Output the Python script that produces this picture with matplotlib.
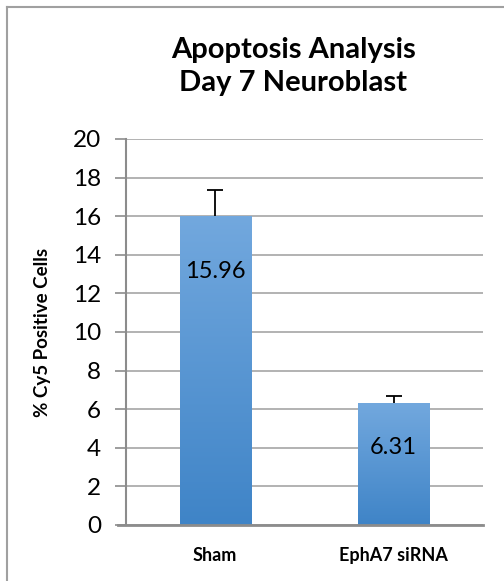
# Apoptosis analysis bar chart, Excel style
import numpy as np
import matplotlib.pyplot as plt
from matplotlib.lines import Line2D

groups = ['Sham', 'EphA7 siRNA']
values = [15.96, 6.31]
errors = [1.38, 0.37]

plt.rcParams['font.family'] = ['Lato', 'DejaVu Sans']

fig = plt.figure(figsize=(5.04, 5.81), dpi=100)
ax = fig.add_axes([0.25, 0.0964, 0.708, 0.6644])

x = np.arange(len(groups))
width = 0.4
label_drop = [2.85, 2.27]  # how far below the bar top the value label sits
grad = np.linspace(0, 1, 256).reshape(-1, 1)
cmap = plt.matplotlib.colors.LinearSegmentedColormap.from_list('b', ['#3f84c7', '#72a8de'])
for xi, v, d in zip(x, values, label_drop):
    ax.imshow(grad, extent=[xi - width / 2, xi + width / 2, 0, v], origin='lower',
              cmap=cmap, aspect='auto', zorder=2)
    ax.text(xi, v - d, f'{v:.2f}', ha='center', va='center', fontsize=17, zorder=4)

# symmetric error bars drawn behind the bars, so only the upper half shows
ax.errorbar(x, values, yerr=errors, fmt='none', ecolor='black',
            elinewidth=1.3, capsize=6, capthick=1.3, zorder=1.5)

ax.set_xlim(-0.5, 1.5)
ax.set_ylim(0, 20)
ax.set_yticks(range(0, 21, 2))
ax.tick_params(axis='y', labelsize=17.5, length=8, color='#8c8c8c', width=1.2, pad=10)
ax.set_xticks(x)
ax.set_xticklabels(groups, fontsize=13, fontweight='bold')
ax.tick_params(axis='x', length=0, pad=16)
ax.grid(axis='y', color='#a6a6a6', linewidth=1.2, zorder=0)
ax.set_axisbelow(True)
for s in ['top', 'right', 'bottom']:
    ax.spines[s].set_visible(False)
ax.spines['left'].set_color('#8c8c8c')
ax.spines['left'].set_linewidth(1.5)
ax.axhline(0, xmin=-0.022, xmax=1, color='#8c8c8c', linewidth=2, clip_on=False, zorder=5)
ax.set_ylabel('% Cy5 Positive Cells', fontsize=13.5, fontweight='bold', labelpad=16)

fig.text(0.582, 0.885, 'Apoptosis Analysis\nDay 7 Neuroblast', ha='center', va='center',
         fontsize=21, fontweight='bold', linespacing=1.35)

# chart frame (left and top edges visible)
fig.add_artist(Line2D([7 / 504, 7 / 504], [0, 1 - 7 / 581], color='#a0a0a0', linewidth=1.5))
fig.add_artist(Line2D([7 / 504, 1], [1 - 7 / 581, 1 - 7 / 581], color='#a0a0a0', linewidth=1.5))

fig.savefig('out.png', dpi=100)
